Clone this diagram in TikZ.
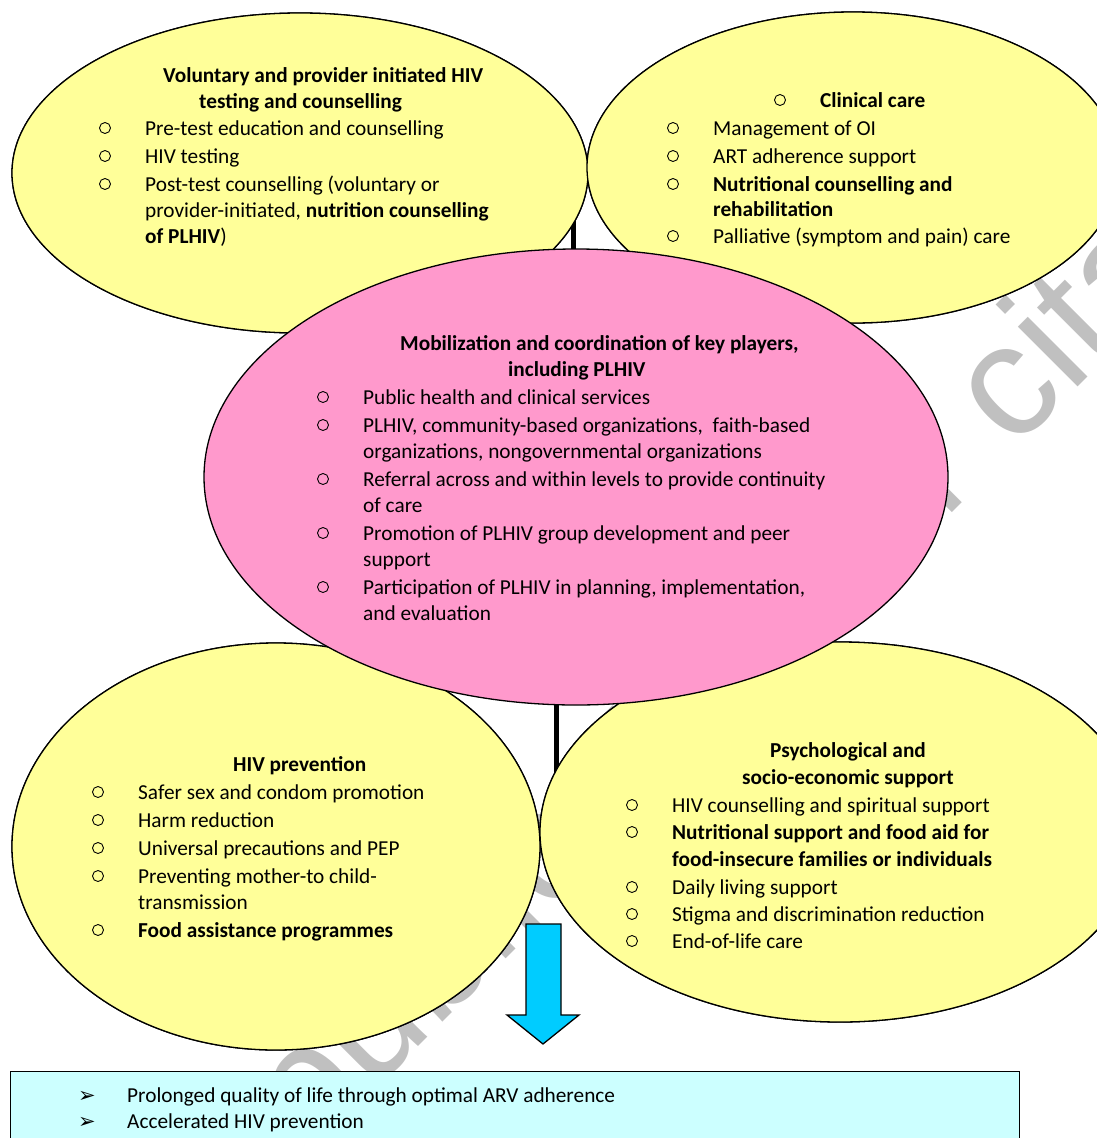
\documentclass[tikz,border=0pt]{standalone}
\usepackage{fontspec}
\setmainfont{Carlito}
\newfontfamily\wmfont{Liberation Sans}
\newfontfamily\symfont{DejaVu Sans}
\usetikzlibrary{shapes.geometric}

\definecolor{paleyellow}{HTML}{FFFF99}
\definecolor{rosepink}{HTML}{FF99CC}
\definecolor{skyarrow}{HTML}{00CCFF}
\definecolor{paleaqua}{HTML}{CCFFFF}
\definecolor{wmgray}{HTML}{C0C0C0}

\tikzset{
  blob/.style={ellipse, draw=black, line width=1.3pt, inner sep=0pt},
  yel/.style={blob, fill=paleyellow},
  conn/.style={line width=5pt, black},
  txt/.style={anchor=base west, inner sep=0pt, font=\fontsize{21.3}{27}\selectfont},
  bul/.style={circle, draw, line width=0.9pt, minimum size=11pt, inner sep=0pt},
  tri/.style={anchor=base, inner sep=0pt, font=\symfont\fontsize{21}{21}\selectfont},
}

% one line of text, given by its left end and the middle of its line height
\newcommand\tline[4]{\node[txt] (#1) at (#2,#3+7) {#4};}
% a bulleted line: hollow bullet 40 units to the left of the text
\newcommand\bline[4]{\node[bul] (#1o) at (#2-40,#3) {};\node[txt] (#1) at (#2,#3+7) {#4};}

\begin{document}
\begin{tikzpicture}[x=1pt,y=-1pt]
\useasboundingbox (0,0) rectangle (1097,1138);

% watermark behind everything
\begin{scope}
\clip (0,0) rectangle (1097,1138);
\node[font=\wmfont\fontsize{160}{160}\selectfont, text=wmgray, rotate=45,
      anchor=base east, inner sep=0pt] (wm) at (1372.5,92.5)
      {publication or citation};
\end{scope}

% junction points behind the ellipses
\coordinate (topjoin) at (573,170);
\coordinate (botjoin) at (556,846);

% outer ellipses (first pass, to name them)
\node[yel, minimum width=576pt, minimum height=320pt] (vct) at (300,173) {};
\node[yel, minimum width=532pt, minimum height=311pt] (clin) at (853,167.5) {};
\node[yel, minimum width=528pt, minimum height=407pt] (prev) at (276,846.5) {};
\node[yel, minimum width=600pt, minimum height=380pt] (psy) at (840,832) {};

% connectors into the central ellipse
\draw[conn] (topjoin) -- (topjoin |- 0,252);
\draw[conn] (botjoin) -- (botjoin |- 0,703);

% outer ellipses again, over the connector ends
\node[yel, minimum width=576pt, minimum height=320pt] at (vct) {};
\node[yel, minimum width=532pt, minimum height=311pt] at (clin) {};
\node[yel, minimum width=528pt, minimum height=407pt] at (prev) {};
\node[yel, minimum width=600pt, minimum height=380pt] at (psy) {};

% central ellipse
\node[blob, fill=rosepink, minimum width=744pt, minimum height=456pt] (mob) at (576,477) {};

% downward block arrow
\draw[fill=skyarrow, line width=1.3pt, line join=miter]
  (526,924) -- (561,924) -- (561,1015) -- (579,1015) -- (543,1044)
  -- (507,1015) -- (526,1015) -- cycle;

% outcome box
\node[draw=black, line width=1.3pt, fill=paleaqua, anchor=north west,
      minimum width=1009pt, minimum height=100pt, inner sep=0pt] (out) at (10,1071) {};

% --- top left ellipse text
\tline{vct1}{163}{75}{\textbf{Voluntary and provider initiated HIV}}
\tline{vct2}{199}{101}{\textbf{testing and counselling}}
\bline{vcta}{145}{128}{Pre-test education and counselling}
\bline{vctb}{145}{156}{HIV testing}
\bline{vctc}{145}{184}{Post-test counselling (voluntary or}
\tline{vctd}{145}{210}{provider-initiated, \textbf{nutrition counselling}}
\tline{vcte}{145}{236}{\textbf{of PLHIV})}

% --- top right ellipse text
\bline{clin1}{820}{100}{\textbf{Clinical care}}
\bline{clina}{713}{128}{Management of OI}
\bline{clinb}{713}{156}{ART adherence support}
\bline{clinc}{713}{184}{\textbf{Nutritional counselling and}}
\tline{clind}{713}{209}{\textbf{rehabilitation}}
\bline{cline}{713}{236}{Palliative (symptom and pain) care}

% --- central ellipse text
\tline{mob1}{400}{343}{\textbf{Mobilization and coordination of key players,}}
\tline{mob2}{508}{369}{\textbf{including PLHIV}}
\bline{moba}{363}{397}{Public health and clinical services}
\bline{mobb}{363}{425}{PLHIV, community-based organizations,\ \ faith-based}
\tline{mobc}{363}{451}{organizations, nongovernmental organizations}
\bline{mobd}{363}{479}{Referral across and within levels to provide continuity}
\tline{mobe}{363}{505}{of care}
\bline{mobf}{363}{533}{Promotion of PLHIV group development and peer}
\tline{mobg}{363}{559}{support}
\bline{mobh}{363}{587}{Participation of PLHIV in planning, implementation,}
\tline{mobi}{363}{613}{and evaluation}

% --- bottom left ellipse text
\tline{prev1}{233}{764}{\textbf{HIV prevention}}
\bline{preva}{138}{792}{Safer sex and condom promotion}
\bline{prevb}{138}{820}{Harm reduction}
\bline{prevc}{138}{848}{Universal precautions and PEP}
\bline{prevd}{138}{876}{Preventing mother-to child-}
\tline{preve}{138}{902}{transmission}
\bline{prevf}{138}{930}{\textbf{Food assistance programmes}}

% --- bottom right ellipse text
\tline{psy1}{770}{750}{\textbf{Psychological and}}
\tline{psy2}{742}{777}{\textbf{socio-economic support}}
\bline{psya}{672}{805}{HIV counselling and spiritual support}
\bline{psyb}{672}{832}{\textbf{Nutritional support and food aid for}}
\tline{psyc}{672}{859}{\textbf{food-insecure families or individuals}}
\bline{psyd}{672}{887}{Daily living support}
\bline{psye}{672}{914}{Stigma and discrimination reduction}
\bline{psyf}{672}{941}{End-of-life care}

% --- outcome box text
\node[tri] (out1o) at (87,1102) {➢};
\tline{out1}{127}{1095}{Prolonged quality of life through optimal ARV adherence}
\node[tri] (out2o) at (87,1128) {➢};
\tline{out2}{127}{1121}{Accelerated HIV prevention}

\end{tikzpicture}
\end{document}
